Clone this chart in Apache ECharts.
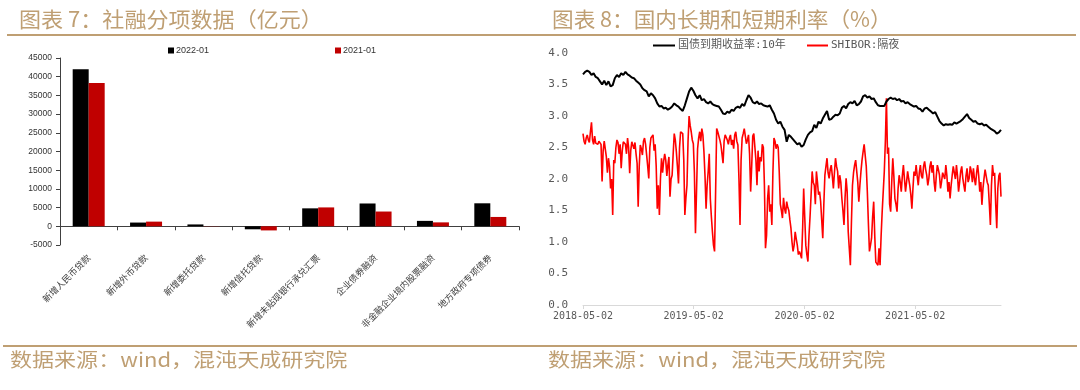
<!DOCTYPE html>
<html><head><meta charset="utf-8">
<script src="https://cdn.jsdelivr.net/npm/echarts@6/dist/echarts.min.js"></script>
<style>html,body{margin:0;padding:0;background:#fff}#c{width:1080px;height:390px}</style>
</head><body><div id="c"></div>
<script>
// ---- Chart 7 data (亿元) ----
const barCategories = ['新增人民币贷款','新增外币贷款','新增委托贷款','新增信托贷款','新增未贴现银行承兑汇票','企业债券融资','非金融企业境内股票融资','地方政府专项债券'];
const barNames = ['2022-01','2021-01'];
const bar2022 = [42000, 1000, 500, -800, 4800, 6100, 1450, 6150];
const bar2021 = [38300, 1250, 50, -1100, 5050, 3950, 1050, 2500];
const barYMin = -5000, barYMax = 45000, barYStep = 5000;

// ---- Chart 8 data (%) ----
const rateNames = ['国债到期收益率:10年','SHIBOR:隔夜'];
const rateStart = '2018-05-02';
const cgbStepDays = 7;
const shiborStepDays = 3.5;
const rateTickLabels = ['2018-05-02','2019-05-02','2020-05-02','2021-05-02'];
const cgb10y = [
3.66,3.70,3.72,3.70,3.65,3.68,3.62,3.60,3.55,3.50,
3.56,3.49,3.55,3.47,3.49,3.60,3.65,3.62,3.68,3.65,
3.70,3.66,3.64,3.61,3.60,3.56,3.53,3.50,3.44,3.41,
3.39,3.31,3.36,3.33,3.28,3.20,3.15,3.16,3.12,3.13,
3.10,3.12,3.15,3.20,3.17,3.15,3.11,3.08,3.17,3.28,
3.39,3.45,3.40,3.33,3.28,3.33,3.25,3.27,3.22,3.20,
3.23,3.19,3.17,3.16,3.15,3.10,3.04,3.03,3.07,3.05,
3.10,3.08,3.13,3.15,3.13,3.19,3.16,3.25,3.33,3.29,
3.22,3.20,3.23,3.19,3.20,3.17,3.16,3.15,3.17,3.10,
3.04,2.94,2.88,2.91,2.83,2.78,2.59,2.70,2.67,2.63,
2.59,2.55,2.57,2.51,2.54,2.63,2.70,2.74,2.76,2.86,
2.81,2.91,2.88,2.96,3.02,3.08,2.94,2.95,2.99,3.02,
3.01,3.04,3.13,3.16,3.12,3.19,3.22,3.20,3.24,3.17,
3.19,3.23,3.31,3.33,3.29,3.31,3.27,3.28,3.22,3.17,
3.16,3.16,3.16,3.23,3.27,3.29,3.27,3.28,3.25,3.27,
3.23,3.24,3.20,3.22,3.19,3.17,3.15,3.16,3.12,3.11,
3.07,3.12,3.13,3.10,3.07,3.04,3.06,2.99,2.92,2.88,
2.85,2.87,2.86,2.87,2.86,2.90,2.88,2.90,2.92,2.95,
2.99,3.03,2.97,2.94,2.91,2.92,2.88,2.87,2.88,2.85,
2.86,2.83,2.80,2.78,2.76,2.72,2.74,2.78];
const shiborON = [
2.72,2.60,2.55,2.65,2.70,2.62,2.58,2.75,2.90,2.62,2.55,2.68,2.57,2.58,2.55,2.60,2.62,2.55,1.96,2.45,
2.60,2.58,2.35,2.10,2.33,2.20,1.85,2.00,1.43,2.30,2.25,2.50,2.62,2.58,2.40,2.55,2.17,2.45,2.59,2.62,
2.55,2.40,2.65,2.50,2.09,2.45,2.59,2.62,2.48,2.58,2.40,2.25,1.56,2.20,2.54,2.48,2.38,2.60,2.65,2.55,
2.38,2.20,2.01,2.50,2.65,2.62,2.70,2.45,2.55,2.20,1.53,1.90,1.43,2.00,2.33,2.10,2.28,2.40,2.30,2.05,
2.22,2.35,1.72,2.00,2.06,2.40,2.72,2.62,2.43,2.20,1.93,2.50,2.75,2.78,2.72,2.30,1.43,1.70,1.90,2.60,
3.00,2.85,2.75,2.62,2.56,2.10,1.14,1.80,2.48,2.65,2.75,2.60,2.80,2.70,2.43,2.05,1.53,1.90,2.12,2.40,
1.69,1.40,1.16,0.95,0.85,1.80,2.80,2.75,2.75,2.62,2.54,2.40,2.25,2.60,2.70,2.72,2.62,2.55,2.65,2.70,
2.54,2.62,2.48,2.70,2.75,2.60,2.54,2.00,1.27,2.30,2.65,2.72,2.80,2.68,2.56,2.62,2.70,2.40,1.80,2.20,
2.68,2.72,2.75,2.30,1.90,2.45,2.12,2.35,2.28,2.55,2.50,1.90,0.90,1.10,1.69,1.90,1.48,1.60,1.27,2.10,
2.65,2.60,2.48,2.55,2.50,2.10,1.60,1.50,1.38,1.70,1.53,1.45,1.64,1.55,1.50,1.35,1.22,1.00,0.85,0.95,
1.16,1.05,0.95,0.80,0.85,0.80,0.74,1.20,1.85,1.40,0.95,0.80,0.69,1.10,1.40,1.75,2.12,1.95,1.90,1.60,
2.12,1.95,1.75,1.80,1.64,1.35,1.06,1.60,2.06,2.20,2.33,2.10,2.01,2.15,2.22,2.05,1.85,2.10,2.33,2.20,
2.12,1.85,2.06,1.95,1.69,1.50,1.27,1.70,2.01,1.80,1.16,0.90,0.63,1.30,1.90,2.10,2.22,2.30,2.33,1.95,
1.64,1.90,2.12,2.30,2.43,2.55,2.54,2.20,1.80,1.30,0.85,0.95,1.06,1.40,1.64,1.10,0.68,0.65,0.63,0.90,
0.63,1.10,1.48,1.80,2.12,2.60,3.28,2.40,2.50,1.60,1.48,1.95,2.33,2.05,1.69,1.60,1.48,1.85,2.06,1.95,
1.80,2.05,2.22,2.00,1.80,1.95,2.12,2.00,1.90,1.75,1.53,1.85,2.12,2.05,2.22,2.05,1.90,2.10,2.22,2.05,
2.01,2.20,2.28,2.15,2.06,1.90,2.01,2.20,2.28,2.10,2.22,1.95,1.80,2.05,2.22,2.15,2.06,1.85,1.96,2.10,
2.12,2.00,2.22,2.05,1.80,1.95,1.69,1.90,2.06,2.20,2.17,2.00,2.22,2.05,1.80,1.95,2.12,2.20,2.01,1.90,
1.80,2.05,2.17,1.95,2.01,2.20,2.12,1.95,2.17,2.00,1.90,2.10,2.22,2.05,1.80,1.95,1.59,1.85,2.01,2.15,
2.12,1.95,1.90,1.60,1.27,1.90,2.22,2.05,2.10,1.60,1.22,1.85,2.05,2.10,1.72];

// ---- text ----
const title7 = '图表 7：社融分项数据（亿元）';
const title8 = '图表 8：国内长期和短期利率（%）';
const sourceText = '数据来源：wind，混沌天成研究院';

const DAY = 86400000;
function utcDay(s){ const p = s.split('-').map(Number); return Date.UTC(p[0], p[1]-1, p[2]); }
const t0 = utcDay(rateStart);
function dayOffset(s){ return Math.round((utcDay(s) - t0) / DAY); }
function pad(n){ return (n<10?'0':'')+n; }
function fmtOffset(off){ const d = new Date(t0 + Math.round(off)*DAY); return d.getUTCFullYear()+'-'+pad(d.getUTCMonth()+1)+'-'+pad(d.getUTCDate()); }
const cgbData = cgb10y.map((v,i)=>[i*cgbStepDays, v]);
const shiborData = shiborON.map((v,i)=>[i*shiborStepDays, v]);
const tickOffsets = rateTickLabels.map(dayOffset);
const lastOffset = (cgb10y.length-1)*cgbStepDays;

const gold = '#bf9f73';
const cjk = "'Noto Sans CJK SC', sans-serif";
const mono = "'DejaVu Sans Mono', 'Noto Sans CJK SC', monospace";

const chart = echarts.init(document.getElementById('c'), null, {renderer:'canvas'});
chart.setOption({
  animation: false,
  backgroundColor: '#ffffff',
  graphic: [
    {type:'text', x:19, y:9, scaleX:1.05, style:{text:title7, font:'21px '+cjk, fill:gold, textVerticalAlign:'top'}},
    {type:'text', x:552, y:9, scaleX:1.03, style:{text:title8, font:'21px '+cjk, fill:gold, textVerticalAlign:'top'}},
    {type:'rect', shape:{x:7, y:34, width:1069, height:2}, style:{fill:gold}},
    {type:'rect', shape:{x:3, y:345, width:1074, height:2}, style:{fill:gold}},
    {type:'text', x:10, y:350, scaleX:1.16, style:{text:sourceText, font:'19px '+cjk, fill:gold, textVerticalAlign:'top'}},
    {type:'text', x:548, y:350, scaleX:1.16, style:{text:sourceText, font:'19px '+cjk, fill:gold, textVerticalAlign:'top'}}
  ],
  legend: [
    {data:[barNames[0]], left:163, top:41, icon:'rect', itemWidth:6, itemHeight:6, itemGap:0,
     textStyle:{fontSize:9, fontFamily:'Liberation Sans', color:'#333', padding:[0,0,0,-3]}},
    {data:[barNames[1]], left:330, top:41, icon:'rect', itemWidth:6, itemHeight:6, itemGap:0,
     textStyle:{fontSize:9, fontFamily:'Liberation Sans', color:'#333', padding:[0,0,0,-3]}},
    {data:[rateNames[0]], left:648, top:35, icon:'rect', itemWidth:22, itemHeight:2,
     textStyle:{fontSize:11, fontFamily:mono, color:'#595959', padding:[0,0,0,-2]}},
    {data:[rateNames[1]], left:802, top:35, icon:'rect', itemWidth:21, itemHeight:2,
     textStyle:{fontSize:11, fontFamily:mono, color:'#595959', padding:[0,0,0,-2]}}
  ],
  grid: [
    {left:60, top:58, width:459, height:187, containLabel:false},
    {left:583, top:53, right:79, height:252, containLabel:false}
  ],
  xAxis: [
    {type:'category', gridIndex:0, data:barCategories,
     axisLine:{onZero:true, lineStyle:{color:'#404040', width:1}},
     axisTick:{show:true, length:4, lineStyle:{color:'#404040'}},
     axisLabel:{rotate:45, margin:11, fontSize:9, fontFamily:cjk, color:'#404040', interval:0}},
    {type:'value', gridIndex:1, min:0, max:lastOffset,
     axisLine:{show:true, lineStyle:{color:'#d9d9d9', width:1}},
     axisTick:{show:true, length:4, customValues:tickOffsets, lineStyle:{color:'#d9d9d9'}},
     axisLabel:{customValues:tickOffsets, formatter:function(v){return fmtOffset(v);}, fontSize:10, fontFamily:mono, color:'#595959', margin:6},
     splitLine:{show:false}}
  ],
  yAxis: [
    {type:'value', gridIndex:0, min:barYMin, max:barYMax, interval:barYStep,
     axisLine:{show:true, lineStyle:{color:'#404040'}},
     axisTick:{show:true, length:4, lineStyle:{color:'#404040'}},
     axisLabel:{formatter:function(v){return String(v);}, fontSize:8.5, fontFamily:'Liberation Sans', color:'#333', margin:8},
     splitLine:{show:false}},
    {type:'value', gridIndex:1, min:0, max:4, interval:0.5,
     axisLine:{show:false}, axisTick:{show:false},
     axisLabel:{formatter:function(v){return v.toFixed(1);}, fontSize:11, fontFamily:mono, color:'#595959', margin:15},
     splitLine:{show:false}}
  ],
  series: [
    {name:barNames[0], type:'bar', xAxisIndex:0, yAxisIndex:0, data:bar2022, barWidth:16, barGap:'0%', itemStyle:{color:'#000000'}},
    {name:barNames[1], type:'bar', xAxisIndex:0, yAxisIndex:0, data:bar2021, barWidth:16, barGap:'0%', itemStyle:{color:'#c00000'}},
    {name:rateNames[0], type:'line', xAxisIndex:1, yAxisIndex:1, data:cgbData, showSymbol:false, symbol:'none',
     lineStyle:{color:'#000000', width:2}, itemStyle:{color:'#000000'}, z:3},
    {name:rateNames[1], type:'line', xAxisIndex:1, yAxisIndex:1, data:shiborData, showSymbol:false, symbol:'none',
     lineStyle:{color:'#ff0000', width:1.6}, itemStyle:{color:'#ff0000'}, z:2}
  ]
});
</script></body></html>
